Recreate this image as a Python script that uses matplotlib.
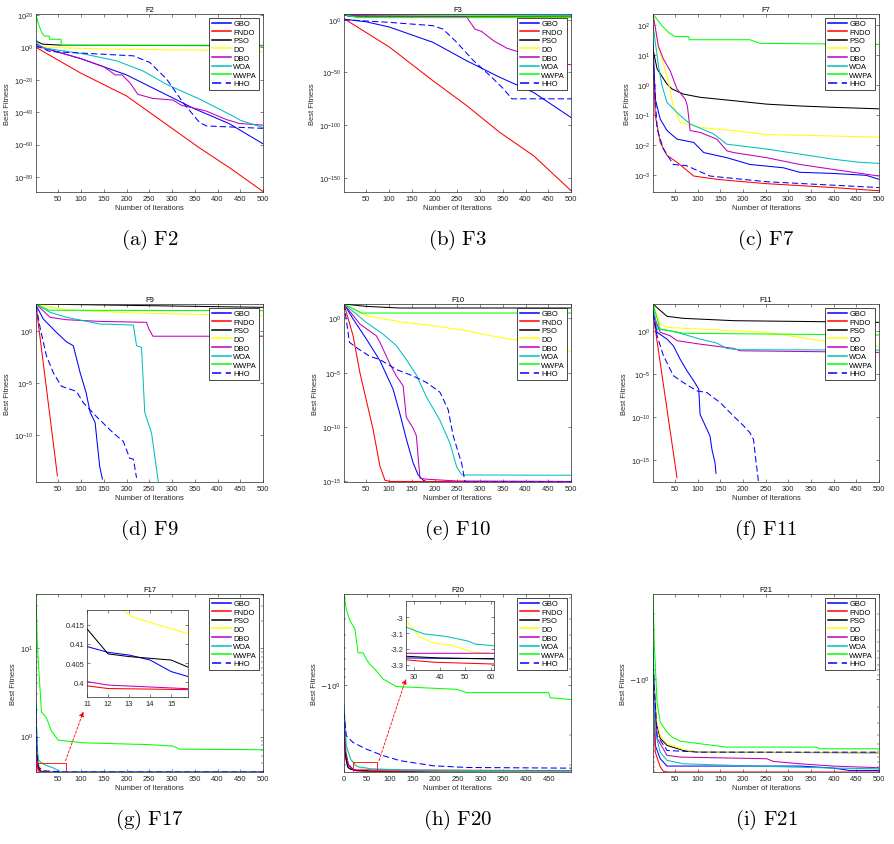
import numpy as np
import matplotlib
matplotlib.use("Agg")
import matplotlib.pyplot as plt
from matplotlib.patches import Rectangle
from matplotlib.ticker import FixedLocator, NullLocator, NullFormatter, FixedFormatter

plt.rcParams['font.family'] = ['Liberation Sans', 'DejaVu Sans']
plt.rcParams['axes.unicode_minus'] = False

algos = ['GBO', 'FNDO', 'PSO', 'DO', 'DBO', 'WOA', 'WWPA', 'HHO']

# (iteration, best fitness) points
# ---- F2
f2_gbo = [(1, 1e2), (20, 3e-1), (100, 1e-7), (150, 1e-12), (200, 1e-17), (250, 1e-24), (300, 1e-31),
          (350, 1e-38), (425, 1e-47), (500, 3e-60)]
f2_fndo = [(1, 1e0), (100, 1e-16), (200, 1e-30), (300, 1e-50), (360, 1e-62), (430, 1e-75), (500, 1e-89)]
f2_pso = [(1, 1e4), (15, 1e2), (60, 2e1), (500, 1e1)]
f2_do = [(1, 1e1), (30, 1e0), (150, 1e-1), (300, 3e-2), (450, 1e-2), (500, 2e-3)]
f2_dbo = [(1, 1e2), (20, 3e-1), (100, 1e-7), (150, 1e-12), (163, 3e-15), (175, 1e-17), (190, 1e-17),
          (207, 2e-22), (225, 1e-29), (258, 3e-32), (302, 3e-33), (320, 2e-36), (375, 5e-40),
          (419, 3e-45), (448, 1e-47), (500, 1e-48)]
f2_woa = [(1, 1e5), (10, 1e0), (105, 1e-4), (178, 5e-9), (236, 3e-15), (287, 2e-23), (361, 1e-32),
          (434, 4e-43), (450, 1e-45), (500, 3e-50)]
f2_wwpa = [(1, 1e20), (4, 1e17), (8, 1e13), (14, 1e9), (19, 1e7), (30, 1e7), (31, 1e5), (56, 1e5),
           (57, 2e1), (500, 2e1)]
f2_hho = [(1, 1e1), (31, 3e-3), (215, 6e-6), (251, 5e-10), (288, 3e-20), (324, 1e-34), (361, 3e-47),
          (376, 3e-49), (500, 1e-50)]

# ---- F3
f3_gbo = [(1, 3e0), (50, 1e-2), (101, 1e-7), (197, 3e-22), (271, 1e-39), (344, 2e-55), (418, 1e-69),
          (500, 2e-93)]
f3_fndo = [(1, 1e1), (101, 1e-26), (197, 1e-58), (271, 3e-82), (344, 1e-107), (418, 1e-129), (500, 1e-162)]
f3_pso = [(1, 1e5), (10, 3e3), (500, 1e3)]
f3_do = [(1, 1e5), (20, 1e4), (500, 3e3)]
f3_dbo = [(1, 1e4), (270, 1e3), (289, 1e-9), (303, 1e-11), (330, 1e-20), (359, 1e-27), (388, 1e-31),
          (418, 1e-37), (462, 3e-41), (500, 2e-43)]
f3_woa = [(1, 1e5), (500, 1e4)]
f3_wwpa = [(1, 1e5), (30, 1e2), (500, 1e2)]
f3_hho = [(1, 1e0), (101, 3e-3), (197, 2e-6), (219, 1e-9), (249, 3e-22), (286, 1e-39), (322, 1e-53),
          (352, 2e-66), (370, 1e-75), (500, 1e-75)]

# ---- F7
f7_gbo = [(1, 30), (6, 0.34), (17, 0.072), (32, 0.03), (54, 0.0155), (91, 0.012), (113, 0.0055),
          (164, 0.0037), (215, 0.0022), (289, 0.0017), (325, 0.0012), (399, 0.0011), (472, 0.00095),
          (500, 0.0007)]
f7_fndo = [(1, 10), (6, 0.095), (17, 0.012), (32, 0.0044), (54, 0.0026), (91, 0.0009), (142, 0.0007),
           (179, 0.00062), (252, 0.0005), (399, 0.00037), (500, 0.00029)]
f7_pso = [(1, 16), (10, 3.5), (32, 1.07), (43, 0.74), (68, 0.5), (105, 0.39), (179, 0.3), (252, 0.23),
          (325, 0.2), (399, 0.18), (500, 0.16)]
f7_do = [(1, 240), (13, 16), (24, 5), (32, 2), (46, 0.2), (61, 0.056), (105, 0.038), (179, 0.03),
         (252, 0.022), (325, 0.021), (500, 0.018)]
f7_dbo = [(1, 240), (13, 20), (24, 7.4), (39, 3), (54, 0.74), (72, 0.34), (77, 0.2), (83, 0.03),
          (105, 0.026), (142, 0.0155), (164, 0.0063), (179, 0.0055), (252, 0.0037), (325, 0.0022),
          (399, 0.0015), (500, 0.0009)]
f7_woa = [(1, 100), (13, 4.5), (21, 0.95), (32, 0.26), (61, 0.095), (83, 0.05), (135, 0.023),
          (164, 0.0105), (252, 0.0072), (325, 0.0049), (399, 0.0033), (456, 0.0026), (500, 0.0024)]
f7_wwpa = [(1, 240), (20, 100), (35, 58), (50, 42), (80, 42), (81, 33), (215, 33), (237, 25), (500, 23)]
f7_hho = [(1, 10), (10, 0.034), (24, 0.0072), (46, 0.0022), (75, 0.002), (127, 0.0009), (252, 0.00058),
          (500, 0.00037)]

# ---- F9
f9_gbo = [(1, 300), (17, 14.5), (46, 0.74), (68, 0.093), (83, 0.039), (98, 1e-4), (111, 1.3e-6),
          (120, 1.6e-8), (131, 1.6e-9), (134, 8e-11), (141, 1e-13), (147, 6e-15)]
f9_fndo = [(1, 300), (48, 1.3e-14)]
f9_pso = [(1, 400), (500, 190)]
f9_do = [(1, 400), (68, 110), (215, 54), (500, 30)]
f9_dbo = [(1, 400), (32, 21), (68, 12.3), (141, 8.5), (244, 6.9), (249, 1.6), (258, 0.32), (500, 0.32)]
f9_woa = [(1, 400), (32, 63), (68, 21), (141, 4.8), (215, 3.8), (222, 0.039), (233, 0.027), (240, 1.6e-8),
          (255, 1.6e-10), (270, 3e-15)]
f9_wwpa = [(1, 400), (30, 100), (500, 91)]
f9_hho = [(1, 300), (10, 2.2), (24, 4e-3), (39, 1e-4), (57, 5e-6), (90, 1.6e-6), (105, 1.3e-7),
          (134, 6e-9), (171, 1.6e-10), (193, 2.5e-11), (207, 6e-13), (215, 5e-13), (222, 8e-15)]

# ---- F10
f10_gbo = [(1, 21), (21, 0.87), (50, 0.013), (80, 1.3e-4), (109, 3e-7), (124, 1.6e-9), (138, 8e-12),
           (153, 5e-14), (164, 4e-15), (175, 1.3e-15), (185, 8.88e-16), (500, 8.88e-16)]
f10_fndo = [(1, 21), (21, 0.025), (36, 1e-5), (50, 3e-8), (65, 6e-11), (80, 2.5e-14), (91, 1.3e-15),
            (102, 1e-15), (500, 8.88e-16)]
f10_pso = [(1, 21), (50, 12.6), (123, 9), (500, 9)]
f10_do = [(1, 21), (50, 1.75), (124, 0.49), (197, 0.21), (271, 0.072), (344, 0.017), (418, 0.006),
          (500, 0.0009)]
f10_dbo = [(1, 21), (36, 0.3), (72, 0.025), (80, 6.3e-3), (102, 6.3e-5), (116, 5e-6), (131, 6.3e-7),
           (138, 8e-10), (153, 8e-11), (160, 1.6e-11), (168, 2e-15), (182, 1.6e-15), (250, 1.1e-15),
           (500, 1e-15)]
f10_woa = [(1, 21), (50, 0.43), (87, 0.035), (116, 3.2e-3), (138, 1.6e-4), (160, 6.3e-6), (182, 6.3e-8),
           (212, 4e-10), (234, 3.2e-12), (249, 2e-14), (260, 4e-15), (500, 3.7e-15)]
f10_wwpa = [(1, 21), (40, 3.1), (500, 3.1)]
f10_hho = [(1, 21), (13, 6.3e-3), (32, 1.6e-3), (58, 3.2e-4), (80, 1.6e-4), (116, 2e-5), (153, 5e-6),
           (182, 1.3e-6), (212, 1.6e-7), (230, 4e-9), (241, 1.6e-11), (260, 4e-14), (267, 8.88e-16),
           (500, 8.88e-16)]

# ---- F11
f11_gbo = [(1, 300), (10, 0.65), (32, 0.107), (46, 0.018), (61, 5e-4), (76, 2.3e-5), (91, 1.6e-6),
           (102, 1.7e-7), (105, 2.1e-10), (120, 4e-12), (127, 6.3e-13), (131, 2e-14), (138, 5e-16),
           (140, 3.2e-17)]
f11_fndo = [(1, 100), (54, 1e-17)]
f11_pso = [(1, 1200), (32, 46), (68, 27), (179, 14.5), (500, 9.3)]
f11_do = [(1, 1200), (17, 5.9), (32, 2.4), (105, 1.55), (252, 0.65), (325, 0.17), (399, 0.045), (500, 0.015)]
f11_dbo = [(1, 100), (17, 0.65), (39, 0.26), (54, 0.07), (105, 0.028), (179, 0.0089), (193, 0.0048),
           (500, 0.0031)]
f11_woa = [(1, 1200), (10, 1.55), (39, 1.0), (68, 0.4), (105, 0.107), (142, 0.037), (164, 0.0089),
           (193, 0.0063), (500, 0.0058)]
f11_wwpa = [(1, 1200), (17, 1.55), (68, 0.5), (500, 0.32)]
f11_hho = [(1, 100), (10, 0.26), (24, 1.3e-3), (46, 6.3e-6), (68, 1e-6), (98, 1.1e-7), (120, 7e-8),
           (149, 5e-9), (179, 1.3e-10), (201, 1e-11), (215, 1.6e-12), (223, 2.5e-13), (227, 3.2e-15),
           (234, 3e-18)]

# ---- F17
f17_gbo = [(1, 2.2), (3, 0.8), (6, 0.45), (11, 0.4093), (12, 0.4078), (13, 0.4071), (14, 0.4058),
           (15, 0.4028), (16, 0.4012), (30, 0.3985), (500, 0.3979)]
f17_fndo = [(1, 0.9), (3, 0.5), (6, 0.41), (11, 0.3991), (12, 0.3984), (16, 0.3981), (500, 0.3979)]
f17_pso = [(1, 1.0), (4, 0.6), (8, 0.43), (11, 0.4139), (12, 0.4074), (13, 0.4067), (15, 0.4058),
           (16, 0.4035), (40, 0.3985), (500, 0.3979)]
f17_do = [(1, 1.1), (4, 0.7), (8, 0.48), (11, 0.45), (12.7, 0.4188), (13.2, 0.4169), (16, 0.4123),
          (30, 0.405), (60, 0.399), (500, 0.3979)]
f17_dbo = [(1, 1.1), (3, 0.6), (6, 0.42), (11, 0.4002), (12, 0.3993), (16, 0.3983), (500, 0.3979)]
f17_woa = [(1, 2.6), (3, 0.9), (6, 0.55), (10, 0.52), (20, 0.48), (40, 0.44), (55, 0.40), (500, 0.3979)]
f17_wwpa = [(1, 40.7), (4, 10.7), (8, 4.9), (13, 1.9), (24, 1.62), (35, 1.15), (50, 0.91), (105, 0.85),
            (251, 0.81), (302, 0.78), (317, 0.72), (500, 0.71)]
f17_hho = [(1, 2.1), (3, 0.7), (6, 0.45), (20, 0.41), (60, 0.3985), (500, 0.3979)]

# ---- F20
f20_gbo = [(0, -1.6), (3, -2.5), (8, -3.0), (20, -3.2), (27, -3.258), (61, -3.262), (499, -3.30)]
f20_fndo = [(0, -1.8), (4, -2.8), (10, -3.15), (27, -3.27), (38, -3.285), (61, -3.296), (150, -3.31),
            (499, -3.32)]
f20_pso = [(0, -1.4), (3, -2.6), (8, -3.1), (15, -3.2), (27, -3.247), (40, -3.258), (61, -3.264),
           (499, -3.30)]
f20_do = [(0, -1.5), (5, -2.4), (15, -2.8), (27, -3.02), (32, -3.12), (37, -3.16), (45, -3.18),
          (53, -3.22), (61, -3.23), (200, -3.27), (499, -3.29)]
f20_dbo = [(0, -1.5), (4, -2.5), (10, -3.0), (20, -3.2), (27, -3.228), (61, -3.228), (499, -3.26)]
f20_woa = [(0, -1.3), (5, -2.3), (15, -2.8), (27, -3.063), (34, -3.106), (42, -3.12), (51, -3.15),
           (54, -3.17), (61, -3.18), (150, -3.24), (499, -3.28)]
f20_wwpa = [(0, -0.284), (5, -0.35), (13, -0.41), (24, -0.46), (31, -0.64), (42, -0.64), (49, -0.70),
            (57, -0.75), (71, -0.82), (86, -0.92), (115, -1.02), (248, -1.06), (270, -1.11), (450, -1.11),
            (453, -1.19), (499, -1.22)]
f20_hho = [(0, -1.46), (5, -2.01), (20, -2.21), (49, -2.42), (86, -2.65), (123, -2.84), (197, -3.05),
           (270, -3.12), (499, -3.15)]

# ---- F21
f21_gbo = [(1, -0.52), (6, -5.24), (17, -7.3), (32, -8.76), (325, -8.76), (398, -9.2), (435, -9.76),
           (500, -9.76)]
f21_fndo = [(1, -0.66), (6, -6.2), (17, -8.95), (24, -10.0), (35, -10.15), (500, -10.153)]
f21_pso = [(1, -1.0), (6, -2.7), (17, -4.4), (32, -5.24), (68, -5.94), (105, -6.2), (500, -6.29)]
f21_do = [(1, -0.66), (10, -2.94), (17, -4.1), (32, -5.0), (68, -5.8), (105, -6.2), (500, -6.2)]
f21_dbo = [(1, -0.66), (10, -4.4), (32, -6.7), (61, -7.0), (252, -7.3), (267, -7.8), (325, -8.27),
           (398, -8.76), (500, -9.13)]
f21_woa = [(1, -0.44), (6, -3.76), (17, -6.2), (32, -7.6), (68, -8.27), (223, -8.76), (398, -9.2),
           (500, -9.38)]
f21_wwpa = [(1, -0.121), (4, -0.44), (10, -1.79), (17, -2.94), (32, -3.76), (43, -4.26), (61, -4.71),
            (105, -5.03), (164, -5.46), (362, -5.46), (369, -5.7), (500, -5.7)]
f21_hho = [(1, -0.72), (10, -4.1), (32, -5.94), (105, -6.2), (500, -6.2)]

styles = {
    'GBO': dict(color='b', ls='-'),
    'FNDO': dict(color='r', ls='-'),
    'PSO': dict(color='k', ls='-'),
    'DO': dict(color='#ffff00', ls='-'),
    'DBO': dict(color='m', ls='-'),
    'WOA': dict(color='c', ls='-'),
    'WWPA': dict(color='#00ff00', ls='-'),
    'HHO': dict(color='b', ls=(0, (6, 3))),
}

panels = [
    ('F2', '(a)\\ F2', [f2_gbo, f2_fndo, f2_pso, f2_do, f2_dbo, f2_woa, f2_wwpa, f2_hho],
     (10**-89.3, 10**20.6), [1e20, 1e0, 1e-20, 1e-40, 1e-60, 1e-80]),
    ('F3', '(b)\\ F3', [f3_gbo, f3_fndo, f3_pso, f3_do, f3_dbo, f3_woa, f3_wwpa, f3_hho],
     (10**-163.3, 10**5.4), [1e0, 1e-50, 1e-100, 1e-150]),
    ('F7', '(c)\\ F7', [f7_gbo, f7_fndo, f7_pso, f7_do, f7_dbo, f7_woa, f7_wwpa, f7_hho],
     (10**-3.58, 10**2.38), [1e2, 1e1, 1e0, 1e-1, 1e-2, 1e-3]),
    ('F9', '(d)\\ F9', [f9_gbo, f9_fndo, f9_pso, f9_do, f9_dbo, f9_woa, f9_wwpa, f9_hho],
     (10**-14.5, 10**2.6), [1e0, 1e-5, 1e-10]),
    ('F10', '(e)\\ F10', [f10_gbo, f10_fndo, f10_pso, f10_do, f10_dbo, f10_woa, f10_wwpa, f10_hho],
     (8.88e-16, 21), [1e0, 1e-5, 1e-10, 1e-15]),
    ('F11', '(f)\\ F11', [f11_gbo, f11_fndo, f11_pso, f11_do, f11_dbo, f11_woa, f11_wwpa, f11_hho],
     (10**-17.5, 10**3.09), [1e0, 1e-5, 1e-10, 1e-15]),
    ('F17', '(g)\\ F17', [f17_gbo, f17_fndo, f17_pso, f17_do, f17_dbo, f17_woa, f17_wwpa, f17_hho],
     (0.3979, 40.7), [1e1, 1e0]),
    ('F20', '(h)\\ F20', [f20_gbo, f20_fndo, f20_pso, f20_do, f20_dbo, f20_woa, f20_wwpa, f20_hho],
     (-3.322, -0.284), [-1]),
    ('F21', '(i)\\ F21', [f21_gbo, f21_fndo, f21_pso, f21_do, f21_dbo, f21_woa, f21_wwpa, f21_hho],
     (-10.153, -0.121), [-1]),
]

W, H = 894, 845
col_left = [36, 344, 653]
col_width = [227, 227, 226]
row_top = [15, 305, 595]
ax_h = 178
fs = 5.4
lw = 0.75
gray = '#262626'


def neg_fwd(v):
    return -np.log10(-np.asarray(v, dtype=float))


def neg_inv(u):
    return -10.0 ** (-np.asarray(u, dtype=float))


def style_axes(ax):
    ax.tick_params(direction='in', length=2, width=0.4, top=True, right=True, labelsize=fs,
                   colors=gray, pad=2)
    ax.tick_params(which='minor', direction='in', length=1.2, width=0.3, top=True, right=True)
    for s in ax.spines.values():
        s.set_linewidth(0.5)
        s.set_color(gray)


def draw_lines(ax, series):
    for name, pts in zip(algos, series):
        x, y = zip(*pts)
        ax.plot(x, y, lw=lw, label=name, **styles[name])


fig = plt.figure(figsize=(W / 100, H / 100), dpi=100)

for i, (title, caption, series, ylim, yticks) in enumerate(panels):
    r, c = divmod(i, 3)
    left, top, w = col_left[c], row_top[r], col_width[c]
    ax = fig.add_axes([left / W, 1 - (top + ax_h) / H, w / W, ax_h / H])
    draw_lines(ax, series)

    if title in ('F20', 'F21'):
        ax.set_yscale('function', functions=(neg_fwd, neg_inv))
        ax.set_ylim(ylim)
        ax.yaxis.set_major_locator(FixedLocator(yticks))
        ax.yaxis.set_major_formatter(FixedFormatter(['$-10^{0}$']))
        if title == 'F20':
            minors = [-0.3, -0.4, -0.5, -0.6, -0.7, -0.8, -0.9, -2, -3]
        else:
            minors = [-0.2, -0.3, -0.4, -0.5, -0.6, -0.7, -0.8, -0.9, -2, -3, -4, -5, -6, -7, -8, -9, -10]
        ax.yaxis.set_minor_locator(FixedLocator(minors))
        ax.yaxis.set_minor_formatter(NullFormatter())
    else:
        ax.set_yscale('log')
        ax.set_ylim(ylim)
        ax.yaxis.set_major_locator(FixedLocator(yticks))
        if title != 'F17':
            ax.yaxis.set_minor_locator(NullLocator())
        ax.yaxis.set_minor_formatter(NullFormatter())

    if title == 'F20':
        ax.set_xlim(0, 499)
        ax.set_xticks(np.arange(0, 451, 50))
    else:
        ax.set_xlim(1, 500)
        ax.set_xticks(np.arange(50, 501, 50))

    style_axes(ax)
    ax.set_title(title, fontsize=fs, pad=2.5, color='k')
    ax.set_xlabel('Number of Iterations', fontsize=fs, labelpad=1.5, color=gray)
    ax.set_ylabel('Best Fitness', fontsize=fs, labelpad=2, color=gray)

    leg = ax.legend(loc='upper right', fontsize=fs, frameon=True, fancybox=False, framealpha=1,
                    edgecolor='k', borderpad=0.3, labelspacing=0.18, handlelength=2.6,
                    handletextpad=0.3, borderaxespad=0.5)
    leg.get_frame().set_linewidth(0.5)
    for h in leg.get_lines():
        h.set_linewidth(1.1)

    fig.text((left + w / 2) / W, 1 - (top + ax_h + 47) / H, r'$\mathrm{' + caption + '}$',
             math_fontfamily='cm', fontsize=15, ha='center', va='center')

    if title == 'F17':
        ax.add_patch(Rectangle((2, 0.3979), 64, 0.11, fill=False, edgecolor='r', lw=0.6, zorder=5))
        ax.annotate('', xy=(105, 1.91), xytext=(66, 0.533),
                    arrowprops=dict(arrowstyle='-|>', color='r', lw=0.6, linestyle=(0, (3, 2)),
                                    mutation_scale=7, shrinkA=0, shrinkB=0))
        ins = fig.add_axes([87 / W, 1 - 698 / H, 101 / W, 87 / H])
        draw_lines(ins, series)
        ins.set_xlim(11, 15.8)
        ins.set_ylim(0.3962, 0.4188)
        ins.set_xticks([11, 12, 13, 14, 15])
        ins.set_yticks([0.4, 0.405, 0.41, 0.415])
        ins.set_yticklabels(['0.4', '0.405', '0.41', '0.415'])
        style_axes(ins)
    if title == 'F20':
        ax.add_patch(Rectangle((20, -3.322), 53, 0.41, fill=False, edgecolor='r', lw=0.6, zorder=5))
        ax.annotate('', xy=(136, -0.92), xytext=(77, -2.84),
                    arrowprops=dict(arrowstyle='-|>', color='r', lw=0.6, linestyle=(0, (3, 2)),
                                    mutation_scale=7, shrinkA=0, shrinkB=0))
        ins = fig.add_axes([406 / W, 1 - 671 / H, 88 / W, 69 / H])
        draw_lines(ins, series)
        ins.set_xlim(26.9, 61.3)
        ins.set_ylim(-3.334, -2.897)
        ins.set_xticks([30, 40, 50, 60])
        ins.set_yticks([-3.3, -3.2, -3.1, -3.0])
        ins.set_yticklabels(['-3.3', '-3.2', '-3.1', '-3'])
        style_axes(ins)

fig.savefig('out.png', dpi=100, facecolor='white')
